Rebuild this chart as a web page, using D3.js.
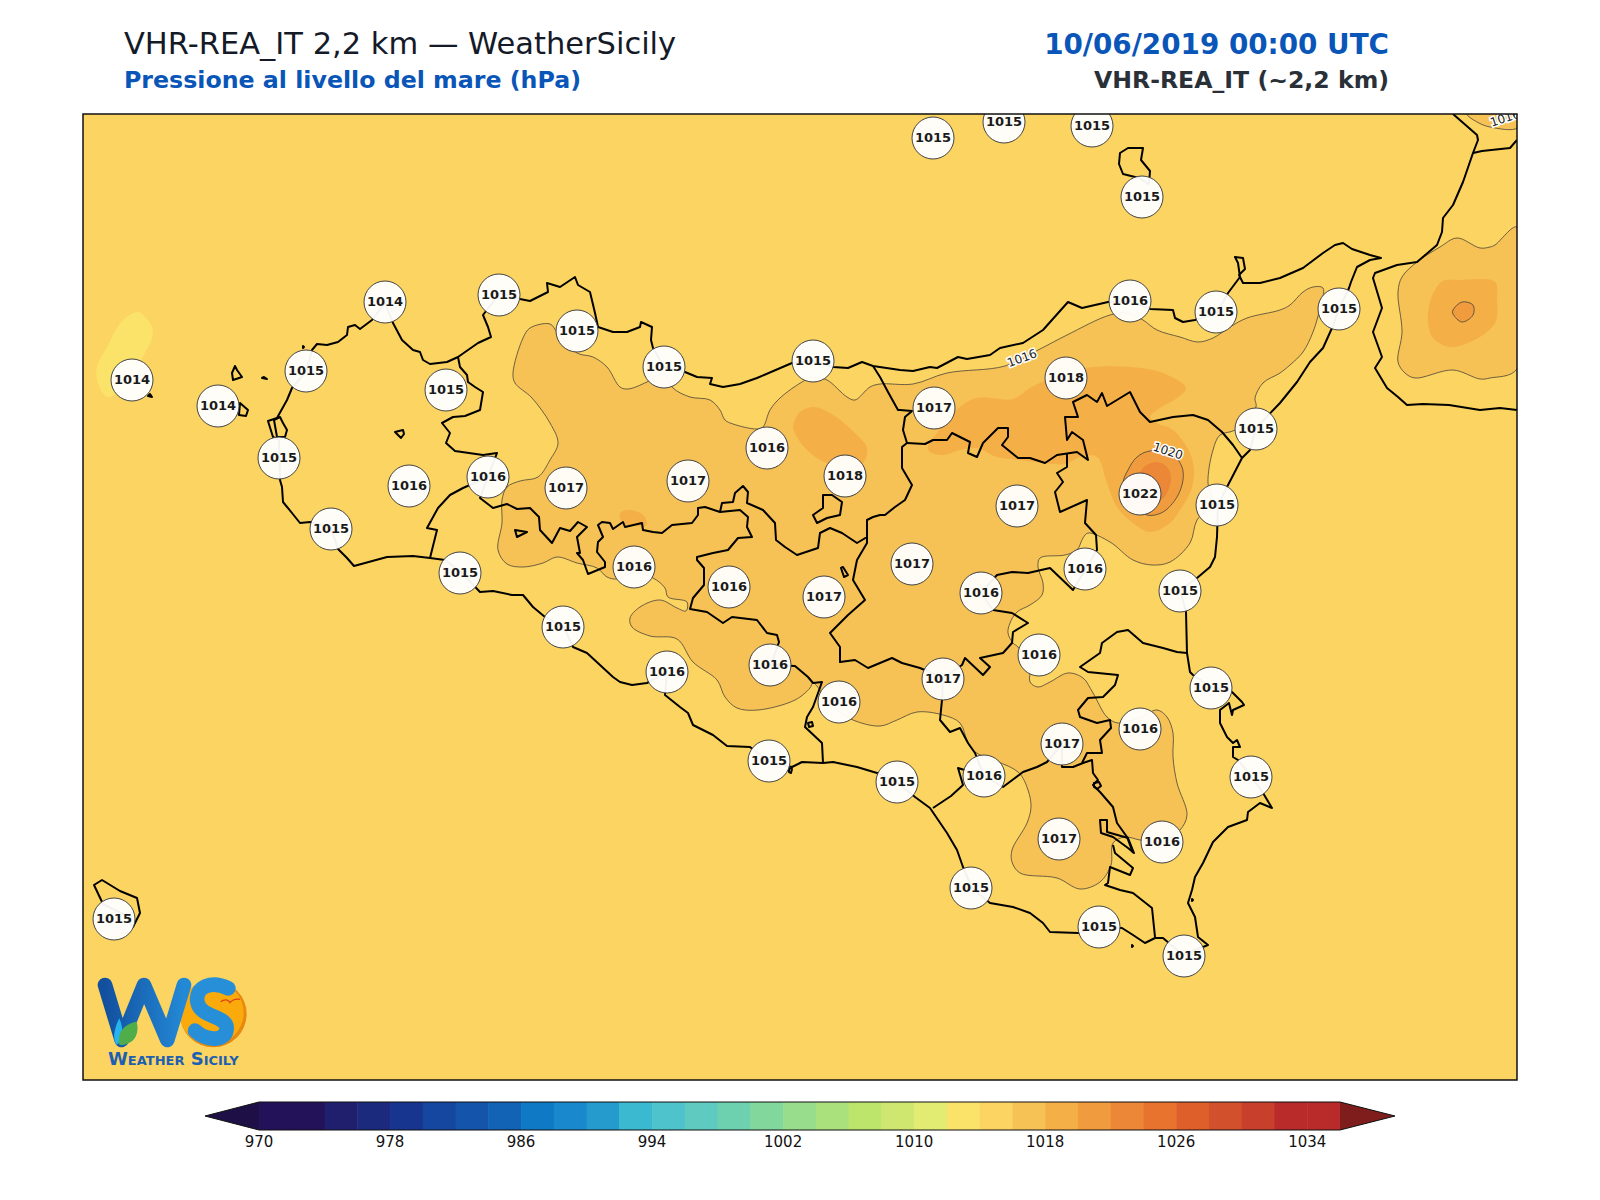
<!DOCTYPE html>
<html>
<head>
<meta charset="utf-8">
<script src="https://cdn.jsdelivr.net/npm/d3@7"></script>
<style>
html, body {margin: 0; background: #fff;}
text {font-family: "DejaVu Sans", sans-serif;}
</style>
</head>
<body>
<svg id="chart" width="1600" height="1200"></svg>
<script>
// colour bar: one colour per 2 hPa band
var levels = d3.range(970, 1037, 2)
var barColors = ['#23125a','#23125a','#1f1f6e','#1b2a7c','#17348e','#1547a0','#1454aa','#1262b5','#0f79c6','#1a88cc',
  '#249bcc','#3ab9d0','#4fc3cb','#5fcbc0','#6dd1b0','#82d79d','#97dd8b','#abe17c','#bde46b','#d0e76f',
  '#e2ec72','#fbe36a','#fcd462','#f6c155','#f4af47','#f09b3e','#eb8736','#e8732f','#df5f2a','#d2512c',
  '#c8402c','#b92a2a','#b92a2a']
var barTicks = [970, 978, 986, 994, 1002, 1010, 1018, 1026, 1034]

// stations, in map grid units
var stationX = [850,921,1009,1059,302,416,494,581,730,1047,1133,1256,49,135,223,363,851,983,1173,684,196,326,405,483,605,762,934,1057,1134,248,829,1002,377,551,646,741,898,1097,480,956,584,687,860,1128,756,1057,979,686,901,814,1168,976,1079,888,1016,31,1101]
var stationY = [24,8,12,83,188,181,217,253,247,187,198,195,266,292,257,276,294,264,315,334,344,372,363,374,367,362,392,380,391,415,450,455,459,453,473,483,479,477,513,541,558,551,565,574,588,615,630,647,662,668,663,725,728,774,813,805,842]
var stationP = [1015,1015,1015,1015,1014,1015,1015,1015,1015,1016,1015,1015,1014,1014,1015,1015,1017,1018,1015,1016,1015,1016,1016,1017,1017,1018,1017,1022,1015,1015,1017,1016,1015,1016,1016,1017,1016,1015,1015,1016,1016,1016,1017,1015,1016,1016,1017,1015,1016,1015,1015,1017,1016,1015,1015,1015,1015]

// pressure areas
var low1012 = [[55,198],[62,203],[69,213],[69,224],[60,243],[49,273],[37,278],[24,283],[15,269],[14,253],[24,233],[40,206]]
var main1016 = [[440,224],[447,214],[467,210],[474,218],[494,239],[510,243],[524,253],[537,273],[545,275],[564,268],[581,259],[590,274],[607,283],[627,286],[637,296],[642,306],[650,310],[674,315],[680,313],[687,296],[697,284],[719,268],[730,263],[744,266],[764,283],[772,286],[787,273],[797,270],[830,270],[864,259],[922,252],[957,235],[984,221],[1027,201],[1046,199],[1060,206],[1074,216],[1097,223],[1115,228],[1130,224],[1147,213],[1164,204],[1197,196],[1207,191],[1220,178],[1230,173],[1240,174],[1237,194],[1230,218],[1220,238],[1207,251],[1197,259],[1180,269],[1172,284],[1173,293],[1152,316],[1137,321],[1130,336],[1125,369],[1130,389],[1114,406],[1107,429],[1087,448],[1069,451],[1050,446],[1027,428],[1005,419],[1000,424],[994,436],[982,441],[957,444],[955,453],[960,469],[959,481],[947,491],[934,498],[927,509],[925,519],[930,529],[935,533],[947,553],[947,568],[955,573],[967,568],[985,559],[1000,564],[1010,579],[1024,603],[1035,609],[1058,603],[1074,596],[1084,603],[1090,619],[1090,643],[1094,669],[1104,701],[1097,716],[1079,728],[1057,726],[1042,723],[1030,729],[1028,751],[1017,768],[997,775],[974,764],[937,759],[929,748],[929,736],[944,709],[948,693],[945,676],[935,658],[892,638],[885,629],[877,609],[860,601],[834,598],[814,606],[797,612],[770,606],[750,593],[730,569],[727,574],[712,586],[675,596],[654,594],[642,583],[634,566],[610,548],[594,525],[567,522],[549,513],[547,504],[557,493],[577,486],[594,494],[603,497],[604,488],[585,483],[582,474],[570,464],[551,459],[534,465],[524,463],[514,454],[494,449],[474,443],[460,449],[440,453],[424,450],[415,436],[419,409],[419,386],[424,373],[437,367],[455,363],[467,346],[475,329],[467,309],[449,284],[432,269],[430,259]]
var calabria1016 = [[1434,113],[1412,131],[1407,133],[1397,134],[1374,124],[1357,133],[1334,148],[1319,163],[1315,178],[1319,218],[1315,248],[1322,259],[1332,264],[1370,256],[1397,265],[1407,264],[1434,255]]
var corner1016 = [[1384,0],[1394,8],[1407,13],[1434,14],[1434,0]]
var west1018 = [[537,399],[547,396],[560,401],[564,411],[544,411],[539,408]]
var central1018 = [[712,306],[717,298],[730,293],[747,299],[777,324],[784,334],[780,349],[762,350],[744,349],[724,336],[714,323],[710,313]]
var east1018 = [[845,333],[854,319],[877,293],[894,284],[930,285],[947,274],[964,266],[982,259],[1010,253],[1047,253],[1080,259],[1103,274],[1094,284],[1077,294],[1067,303],[1074,309],[1090,316],[1107,339],[1111,359],[1107,379],[1097,396],[1087,409],[1067,418],[1050,409],[1034,393],[1024,369],[1014,343],[997,343],[982,350],[962,349],[937,346],[914,343],[894,334],[877,336],[860,341],[847,338]]
var calabria1018 = [[1354,173],[1360,167],[1377,166],[1412,168],[1414,185],[1413,207],[1404,218],[1387,228],[1367,233],[1350,224],[1345,208],[1347,188]]
var calabria1020 = [[1370,196],[1379,188],[1390,191],[1390,201],[1379,208],[1370,200]]
var etna1020 = [[1045,356],[1054,343],[1067,337],[1090,341],[1099,353],[1100,366],[1094,383],[1080,398],[1064,401],[1044,386],[1040,369]]
var etna1022 = [[1060,354],[1074,348],[1084,353],[1088,364],[1084,379],[1075,388],[1060,389],[1054,373]]

var areas = [
  {level: 1012, pts: low1012},
  {level: 1016, pts: main1016, line: true},
  {level: 1016, pts: calabria1016, line: true},
  {level: 1016, pts: corner1016, line: true},
  {level: 1018, pts: west1018},
  {level: 1018, pts: central1018},
  {level: 1018, pts: east1018},
  {level: 1018, pts: calabria1018},
  {level: 1020, pts: calabria1020, line: true},
  {level: 1020, pts: etna1020, line: true},
  {level: 1022, pts: etna1022}
]
var contourLabels = [
  {text: '1016', x: 939, y: 244, angle: -20},
  {text: '1020', x: 1085, y: 337, angle: 18},
  {text: '1016', x: 1422, y: 4, angle: -18}
]

// coast and boundaries
var sicily = [[196,326],[190,323],[185,307],[194,304],[204,286],[209,274],[223,258],[229,236],[234,230],[244,231],[255,228],[264,221],[265,213],[272,211],[277,215],[289,206],[302,189],[310,209],[319,226],[330,236],[337,238],[340,246],[347,250],[364,248],[375,243],[395,229],[408,223],[405,213],[400,201],[417,179],[437,185],[447,187],[465,178],[464,169],[477,173],[492,163],[495,171],[507,178],[512,199],[515,213],[530,218],[544,218],[557,213],[558,208],[569,213],[568,226],[570,234],[581,253],[602,258],[614,263],[629,264],[627,270],[640,273],[657,270],[674,264],[709,249],[730,247],[750,253],[765,254],[779,248],[790,252],[817,256],[830,257],[847,253],[854,254],[875,243],[884,245],[907,241],[917,234],[940,229],[960,216],[985,188],[999,194],[1025,188],[1047,187],[1067,195],[1090,196],[1092,204],[1100,208],[1112,206],[1134,199],[1145,179],[1157,163],[1155,149],[1152,143],[1160,144],[1162,155],[1156,161],[1160,169],[1177,169],[1197,164],[1220,154],[1240,139],[1252,131],[1260,129],[1269,135],[1287,141],[1298,144],[1287,146],[1274,153],[1268,168],[1266,174],[1256,195],[1249,214],[1240,234],[1227,248],[1214,268],[1197,289],[1173,314],[1167,336],[1159,344],[1144,373],[1135,391],[1134,423],[1132,443],[1127,453],[1114,464],[1097,476],[1103,498],[1104,539],[1107,558],[1110,561],[1128,573],[1149,578],[1159,588],[1161,591],[1150,596],[1149,601],[1146,589],[1137,596],[1137,609],[1144,623],[1150,629],[1154,626],[1157,633],[1150,633],[1150,643],[1155,646],[1168,662],[1180,679],[1189,694],[1177,689],[1165,698],[1164,706],[1145,713],[1130,728],[1120,749],[1112,763],[1109,776],[1105,789],[1112,803],[1115,823],[1125,831],[1100,841],[1080,824],[1072,824],[1062,829],[1050,821],[1039,814],[1016,813],[995,819],[967,818],[960,809],[947,799],[930,793],[907,789],[889,774],[880,753],[874,736],[864,719],[847,694],[832,683],[814,668],[794,659],[774,653],[750,648],[740,649],[719,648],[709,653],[686,648],[667,633],[644,632],[630,621],[610,611],[605,599],[597,593],[582,581],[584,558],[564,569],[549,571],[537,568],[530,563],[517,551],[504,539],[490,533],[481,513],[462,503],[450,493],[440,481],[429,481],[410,477],[397,478],[378,458],[362,446],[347,444],[330,442],[304,443],[271,452],[264,444],[255,435],[248,414],[227,408],[217,409],[209,399],[200,388],[199,373],[197,366],[196,326]]
var calabria = [[1370,0],[1394,21],[1395,26],[1390,39],[1380,68],[1370,91],[1360,104],[1359,118],[1354,131],[1334,148],[1314,151],[1292,159],[1290,164],[1299,194],[1290,218],[1299,243],[1292,254],[1304,274],[1315,283],[1324,291],[1340,290],[1366,291],[1397,296],[1417,294],[1434,296]]
var calabriaBranch = [[1390,39],[1399,37],[1427,34],[1434,26]]
var borderWest = [[375,243],[377,253],[384,261],[385,268],[392,273],[400,278],[397,296],[382,302],[370,303],[359,309],[367,319],[363,329],[372,337],[400,341],[414,339],[405,363],[380,374],[367,381],[355,394],[344,414],[354,416],[347,444]]
var borderPalermo = [[405,363],[397,384],[410,394],[424,390],[434,395],[447,394],[456,403],[457,416],[469,429],[477,414],[487,417],[495,408],[504,413],[494,423],[497,439],[494,439],[500,446],[505,460],[522,453],[522,448],[514,438],[515,428],[520,423],[515,411],[519,408],[527,409],[530,415],[540,408],[542,413],[559,409],[560,416],[570,418],[579,419],[589,411],[609,409],[615,401],[615,394],[622,393],[637,398],[639,389],[650,388],[652,379],[660,372],[665,378],[664,389],[680,396],[692,409],[693,426],[702,433],[714,441],[735,434],[737,419],[747,414],[759,419],[774,429],[784,423],[784,406],[790,403],[797,401],[802,401],[812,393],[822,386],[829,371],[819,354],[819,333],[824,329]]
var borderMessinaWest = [[790,252],[797,263],[805,278],[815,296],[817,296],[829,297],[822,303],[820,316],[824,329]]
var borderMessinaSouth = [[824,329],[842,330],[850,326],[864,326],[869,319],[887,328],[885,339],[894,343],[900,329],[915,314],[925,314],[925,323],[919,331],[935,344],[947,344],[962,349],[974,341],[994,338],[1005,346],[1000,326],[989,318],[984,326],[982,303],[995,303],[990,288],[1004,281],[1014,288],[1019,279],[1024,292],[1047,278],[1057,298],[1067,308],[1090,303],[1110,301],[1125,306],[1139,318],[1150,331],[1159,344]]
var borderEnna = [[984,339],[984,353],[974,359],[980,368],[972,378],[977,398],[1004,386],[1002,409],[1013,421],[1014,436],[1002,456],[990,476],[967,454],[945,459],[929,458],[914,461],[898,479],[910,496],[929,499],[945,509],[930,518],[929,529],[920,539],[897,544],[907,553],[900,561],[882,544],[879,551],[860,564],[837,554],[819,549],[809,544],[785,554],[772,546],[757,548],[757,533],[747,519],[765,501],[782,486],[770,466],[774,446],[784,429],[784,423]]
var borderRagusaWest = [[860,564],[859,586],[857,606],[867,618],[877,614],[885,629],[892,639],[901,662],[875,654],[880,671],[868,682],[850,694]]
var borderRagusaEast = [[901,662],[920,673],[940,658],[954,653],[964,648],[979,630],[979,653],[990,653],[1000,649],[1009,646],[1010,659],[1015,666],[1010,671],[1017,678],[1030,693],[1034,709],[1044,723],[1050,739]]
var borderSiracusa = [[1030,731],[1032,739],[1050,754],[1047,761],[1027,753],[1025,769],[1022,771],[1037,776],[1050,779],[1069,794],[1072,823]]
var borderCatania = [[1104,539],[1094,538],[1080,534],[1060,529],[1045,516],[1034,518],[1019,529],[1017,539],[997,553],[1005,558],[1035,561],[1032,571],[1020,583],[1005,584],[995,596],[997,603],[1014,609],[1027,606],[1028,614],[1017,626],[1019,639],[1004,639],[999,649]]
var borderAgrigento = [[637,398],[657,396],[665,403],[664,413],[669,423],[655,424],[645,436],[630,439],[614,443],[614,446],[621,454],[621,471],[610,484],[607,495],[624,498],[640,509],[649,503],[674,506],[684,519],[694,521],[696,528],[688,551],[712,552],[725,563],[730,569],[739,568],[730,593],[724,603],[722,613],[739,629],[740,649]]
var lakes = [
  [[1017,706],[1018,719],[1030,723],[1045,734],[1051,739],[1045,724],[1024,718],[1024,706]],
  [[432,416],[444,418],[434,423]],
  [[740,381],[749,381],[759,388],[757,401],[744,404],[734,409],[730,401],[740,394]],
  [[758,454],[760,453],[765,461],[761,463]],
  [[312,318],[320,316],[321,320],[318,324]],
  [[191,306],[197,303],[200,309],[204,316],[202,323],[194,323]],
  [[725,609],[729,608],[730,612],[726,613]],
  [[706,654],[709,655],[708,659],[706,658]],
  [[1011,669],[1016,668],[1018,672],[1014,675],[1011,673]]
]
var islands = [
  [[152,252],[149,259],[150,266],[159,263],[154,256]],
  [[157,289],[165,296],[163,302],[156,301]],
  [[65,282],[69,283],[67,280]],
  [[179,264],[184,265],[181,263]],
  [[220,232],[221,233],[220,234]],
  [[1049,831],[1050,832],[1049,833]],
  [[1109,785],[1110,786],[1109,787]],
  [[11,771],[19,766],[37,777],[54,784],[57,799],[50,813],[40,800],[20,790]],
  [[1037,39],[1045,34],[1060,34],[1058,46],[1067,57],[1066,70],[1056,64],[1040,60],[1036,50]]
]
var openLines = [calabria, calabriaBranch, borderWest, borderPalermo, borderMessinaWest, borderMessinaSouth, borderEnna, borderRagusaWest, borderRagusaEast, borderSiracusa, borderCatania, borderAgrigento]

var frame = {left: 83, right: 1517, top: 114, bottom: 1080}

var x = d3.scaleLinear().domain([0, 1434]).range([frame.left, frame.right])
var y = d3.scaleLinear().domain([0, 966]).range([frame.top, frame.bottom])
var color = d3.scaleThreshold().domain(levels.slice(1)).range(barColors)

var line = d3.line().x(d => x(d[0])).y(d => y(d[1]))
var ring = d3.line().x(d => x(d[0])).y(d => y(d[1])).curve(d3.curveLinearClosed)
var smooth = d3.line().x(d => x(d[0])).y(d => y(d[1])).curve(d3.curveCatmullRomClosed.alpha(0.5))

var svg = d3.select('#chart')

svg.append('clipPath').attr('id', 'map-clip').append('rect')
  .attr('x', frame.left).attr('y', frame.top)
  .attr('width', frame.right - frame.left).attr('height', frame.bottom - frame.top)

var map = svg.append('g').attr('clip-path', 'url(#map-clip)')

map.append('rect')
  .attr('x', frame.left).attr('y', frame.top)
  .attr('width', frame.right - frame.left).attr('height', frame.bottom - frame.top)
  .attr('fill', color(1014))

map.selectAll('path.area').data(areas).join('path')
  .attr('class', 'area')
  .attr('d', d => smooth(d.pts))
  .attr('fill', d => color(d.level))
  .attr('stroke', d => d.line ? '#4a4438' : 'none')
  .attr('stroke-width', 0.8)

map.selectAll('path.ring').data([sicily].concat(lakes, islands)).join('path')
  .attr('class', 'ring')
  .attr('d', ring)
  .attr('fill', 'none')
  .attr('stroke', '#000')
  .attr('stroke-width', 2)
  .attr('stroke-linejoin', 'round')

map.selectAll('path.border').data(openLines).join('path')
  .attr('class', 'border')
  .attr('d', line)
  .attr('fill', 'none')
  .attr('stroke', '#000')
  .attr('stroke-width', 2)
  .attr('stroke-linejoin', 'round')

var labelSel = map.selectAll('g.clabel').data(contourLabels).join('g')
  .attr('class', 'clabel')
  .attr('transform', d => `translate(${x(d.x)},${y(d.y)}) rotate(${d.angle})`)
labelSel.append('text')
  .text(d => d.text)
  .attr('text-anchor', 'middle').attr('dy', '0.35em')
  .attr('font-size', 12)
  .attr('stroke', '#fff').attr('stroke-width', 3).attr('fill', '#fff')
labelSel.append('text')
  .text(d => d.text)
  .attr('text-anchor', 'middle').attr('dy', '0.35em')
  .attr('font-size', 12)
  .attr('fill', '#222')

var stations = stationP.map((p, i) => ({p: p, x: stationX[i], y: stationY[i]}))
var stationSel = map.selectAll('g.station').data(stations).join('g')
  .attr('class', 'station')
  .attr('transform', d => `translate(${x(d.x)},${y(d.y)})`)
stationSel.append('circle')
  .attr('r', 21)
  .attr('fill', '#fff')
  .attr('fill-opacity', 0.95)
  .attr('stroke', '#444')
  .attr('stroke-width', 1)
stationSel.append('text')
  .text(d => d.p)
  .attr('text-anchor', 'middle')
  .attr('y', 3.5)
  .attr('font-size', 13)
  .attr('font-weight', 'bold')
  .attr('fill', '#1a1a1a')

// logo, drawn in its own 3x box
var logo = svg.append('g').attr('transform', 'translate(80,940) scale(0.3333)')
var gradW = svg.append('linearGradient').attr('id', 'logo-w').attr('x1', 0).attr('x2', 1)
gradW.append('stop').attr('offset', 0).attr('stop-color', '#12509f')
gradW.append('stop').attr('offset', 1).attr('stop-color', '#2389d6')
logo.append('circle').attr('cx', 400).attr('cy', 222).attr('r', 100).attr('fill', '#e8890f')
logo.append('circle').attr('cx', 395).attr('cy', 218).attr('r', 96).attr('fill', '#fbaa0c')
logo.append('path')
  .attr('d', 'M75,135 L125,300 L192,135 L262,300 L312,135')
  .attr('fill', 'none').attr('stroke', 'url(#logo-w)').attr('stroke-width', 44)
  .attr('stroke-linecap', 'round').attr('stroke-linejoin', 'round')
logo.append('path')
  .attr('d', 'M445,145 C395,120 345,140 352,185 C360,235 440,225 440,265 C440,305 380,305 345,272')
  .attr('fill', 'none').attr('stroke', '#278fd8').attr('stroke-width', 44)
  .attr('stroke-linecap', 'round')
logo.append('path')
  .attr('d', 'M118,235 C135,275 125,305 110,315 C98,300 100,270 118,235 Z').attr('fill', '#25b4ee')
logo.append('path')
  .attr('d', 'M118,315 C110,270 140,250 170,245 C180,285 160,315 118,315 Z').attr('fill', '#4fae4a')
logo.append('path')
  .attr('d', 'M422,185 C435,175 445,180 450,188 C458,178 468,176 480,178')
  .attr('fill', 'none').attr('stroke', '#d8451a').attr('stroke-width', 4)
svg.append('text')
  .text('Weather Sicily')
  .attr('x', 108).attr('y', 1065)
  .attr('font-size', 18).attr('font-weight', 'bold')
  .attr('font-variant', 'small-caps')
  .attr('fill', '#1d5fb0')

svg.append('rect')
  .attr('x', frame.left).attr('y', frame.top)
  .attr('width', frame.right - frame.left).attr('height', frame.bottom - frame.top)
  .attr('fill', 'none').attr('stroke', '#111').attr('stroke-width', 1.5)

// colour bar
var barX = d3.scaleLinear().domain([970, 1036]).range([259, 1340])
var barTop = 1102, barBottom = 1130, barMid = (barTop + barBottom) / 2
svg.selectAll('rect.band').data(levels.slice(0, -1)).join('rect')
  .attr('class', 'band')
  .attr('x', d => barX(d))
  .attr('y', barTop)
  .attr('width', d => barX(d + 2) - barX(d) + 0.5)
  .attr('height', barBottom - barTop)
  .attr('fill', d => color(d))
svg.append('path')
  .attr('d', `M${barX(970)},${barTop} L205,${barMid} L${barX(970)},${barBottom} Z`)
  .attr('fill', '#1e1046')
svg.append('path')
  .attr('d', `M${barX(1036)},${barTop} L1395,${barMid} L${barX(1036)},${barBottom} Z`)
  .attr('fill', '#7f1d1d')
svg.append('path')
  .attr('d', `M${barX(970)},${barTop} L205,${barMid} L${barX(970)},${barBottom} L${barX(1036)},${barBottom} L1395,${barMid} L${barX(1036)},${barTop} Z`)
  .attr('fill', 'none').attr('stroke', '#111').attr('stroke-width', 1)
svg.selectAll('text.tick').data(barTicks).join('text')
  .attr('class', 'tick')
  .text(d => d)
  .attr('x', d => barX(d))
  .attr('y', 1147)
  .attr('text-anchor', 'middle')
  .attr('font-size', 15)
  .attr('fill', '#111')

// titles
var titles = [
  {text: 'VHR-REA_IT 2,2 km \u2014 WeatherSicily', x: 124, y: 54, size: 30.5, weight: 'normal', fill: '#141a28', anchor: 'start'},
  {text: 'Pressione al livello del mare (hPa)', x: 124, y: 88, size: 23.7, weight: 'bold', fill: '#0a56b8', anchor: 'start'},
  {text: '10/06/2019 00:00 UTC', x: 1389, y: 54, size: 27.8, weight: 'bold', fill: '#0a56b8', anchor: 'end'},
  {text: 'VHR-REA_IT (~2,2 km)', x: 1389, y: 88, size: 23.6, weight: 'bold', fill: '#2a3038', anchor: 'end'}
]
svg.selectAll('text.title').data(titles).join('text')
  .attr('class', 'title')
  .text(d => d.text)
  .attr('x', d => d.x).attr('y', d => d.y)
  .attr('font-size', d => d.size)
  .attr('font-weight', d => d.weight)
  .attr('fill', d => d.fill)
  .attr('text-anchor', d => d.anchor)
</script>
</body>
</html>
